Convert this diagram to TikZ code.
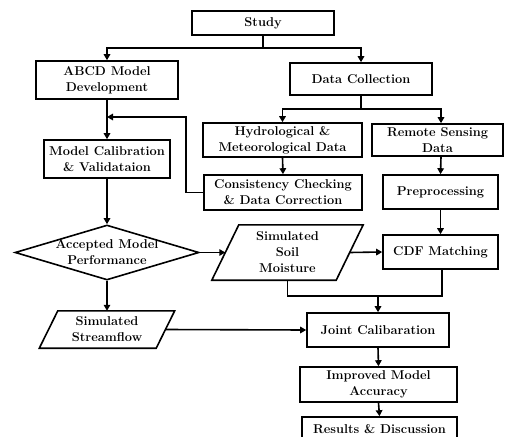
\documentclass[tikz,border=0pt]{standalone}
\usetikzlibrary{arrows.meta,shapes.geometric}
\newcommand\fs{\fontsize{12.8}{16}\selectfont\bfseries}
\tikzset{
  every node/.style={font=\fs},
  box/.style={draw, line width=1.6pt, align=center, inner sep=1pt},
  txt/.style={align=center, inner sep=0pt},
  ln/.style={line width=1.6pt},
  arr/.style={line width=1.6pt, -{Triangle[length=6pt,width=6.5pt]}},
}
\begin{document}
\begin{tikzpicture}[x=1pt,y=-1pt]
\useasboundingbox (0,0) rectangle (505,436);
\fill[white] (0,0) rectangle (505,436);
\clip (0,0) rectangle (505,436);

\node[box, minimum width=142, minimum height=24] (study) at (263,23) {Study};
\node[box, minimum width=142, minimum height=38] (abcd) at (107,80) {ABCD Model\\Development};
\node[box, minimum width=142, minimum height=32] (dc) at (361,79) {Data Collection};
\node[box, minimum width=159, minimum height=34] (hyd) at (282.5,140) {Hydrological \&\\Meteorological Data};
\node[box, minimum width=131, minimum height=32] (rs) at (437.5,140) {Remote Sensing\\Data};
\node[box, minimum width=158, minimum height=35] (cons) at (283,192.5) {Consistency Checking\\\& Data Correction};
\node[box, minimum width=115, minimum height=34] (pre) at (440.5,192) {Preprocessing};
\node[box, minimum width=115, minimum height=34] (cdf) at (440.5,252) {CDF Matching};
\node[box, minimum width=126, minimum height=38] (mc) at (107,159) {Model Calibration\\\& Validataion};
\node[draw, line width=1.6pt, diamond, minimum width=184, minimum height=55, inner sep=0pt] (dia) at (107,252.5) {};
\node[txt] (diat) at (107,252.5) {Accepted Model\\Performance};
\node[txt, minimum width=124, minimum height=55] (sm) at (287.5,252.5) {Simulated\\Soil\\Moisture};
\draw[ln, line join=miter] ([xshift=13.5]sm.north west) -- ([xshift=13.5]sm.north east)
  -- ([xshift=-13.5]sm.south east) -- ([xshift=-13.5]sm.south west) -- cycle;
\node[txt, minimum width=116.5, minimum height=37] (sf) at (107,329.5) {Simulated\\Streamflow};
\draw[ln, line join=miter] ([xshift=9.25]sf.north west) -- ([xshift=9.25]sf.north east)
  -- ([xshift=-9.25]sf.south east) -- ([xshift=-9.25]sf.south west) -- cycle;
\node[box, minimum width=142, minimum height=34] (jc) at (378,330) {Joint Calibaration};
\node[box, minimum width=157, minimum height=35] (ima) at (378.5,384.5) {Improved Model\\Accuracy};
\node[box, minimum width=155, minimum height=24] (rd) at (379.5,429) {Results \& Discussion};

\coordinate (fb) at (107,117);
\coordinate (merge) at (378,296);

\draw[arr] (study.south) -- ++(0,12) -| (abcd.north);
\draw[arr] (study.south) -- ++(0,12) -| (dc.north);
\draw[arr] (dc.south) -- ++(0,13) -| (hyd.north);
\draw[arr] (dc.south) -- ++(0,13) -| ([xshift=3.5]rs.north);
\draw[arr] (hyd.south) -- (cons.north);
\draw[arr] ([xshift=3.5]rs.south) -- (pre.north);
\draw[arr] (pre.south) -- (cdf.north);
\draw[arr] (cons.west) -- ++(-17,0) |- (fb);
\draw[arr] (abcd.south) -- (mc.north);
\draw[arr] (mc.south) -- (dia.north);
\draw[arr] (dia.east) -- (sm.west);
\draw[arr] (sm.east) -- (cdf.west);
\draw[ln] (sm.south) |- (merge) -| ([xshift=1.5]cdf.south);
\draw[arr] (merge) -- (jc.north);
\draw[arr] (dia.south) -- (sf.north);
\draw[arr] (sf.east) -- (jc.west);
\draw[arr] (jc.south) -- (ima.north);
\draw[arr] (ima.south) -- (rd.north);
\end{tikzpicture}
\end{document}
